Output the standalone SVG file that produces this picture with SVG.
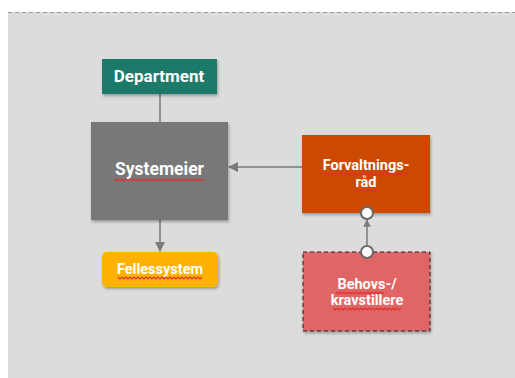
<svg xmlns="http://www.w3.org/2000/svg" width="515" height="378" viewBox="0 0 515 378">
<defs>
<style>
.t{font-family:Roboto,"Liberation Sans",sans-serif;font-weight:bold;fill:#ffffff;text-anchor:middle}
.c{stroke:#7a7a7a;stroke-width:1.5;fill:none}
.sq{stroke:#e03030;stroke-width:1.2;fill:none}
</style>
<filter id="sh" x="-10%" y="-10%" width="130%" height="140%">
<feDropShadow dx="1" dy="2" stdDeviation="1.5" flood-color="#000" flood-opacity="0.3"/>
</filter>
<marker id="ar" viewBox="0 0 10 10" refX="9" refY="5" markerWidth="7" markerHeight="7" orient="auto">
<path d="M0,0 L10,5 L0,10 z" fill="#7a7a7a"/>
</marker>
<marker id="ar2" viewBox="0 0 10 10" refX="9" refY="5" markerWidth="5" markerHeight="5" orient="auto">
<path d="M0,0 L10,5 L0,10 z" fill="#7a7a7a"/>
</marker>
</defs>
<rect x="0" y="0" width="515" height="378" fill="#ffffff"/>
<rect x="8" y="12" width="507" height="366" fill="#dcdcdc"/>
<line x1="8" y1="12.5" x2="515" y2="12.5" stroke="#999" stroke-width="1" stroke-dasharray="4,3"/>
<g id="connectors">
<line class="c" x1="160" y1="94" x2="160" y2="122"/>
<line class="c" x1="160" y1="220" x2="160" y2="251" marker-end="url(#ar)"/>
<line class="c" x1="302" y1="167" x2="229" y2="167" marker-end="url(#ar)"/>
<line class="c" x1="367" y1="246" x2="367" y2="220" marker-end="url(#ar2)"/>
</g>
<g id="department">
<rect x="102" y="59" width="115" height="35" fill="#1d7a6b" filter="url(#sh)"/>
<text class="t" x="159" y="82" font-size="17">Department</text>
</g>
<g id="systemeier">
<rect x="91" y="122" width="137" height="98" fill="#787878" filter="url(#sh)"/>
<text class="t" x="159.5" y="175" font-size="17.5">Systemeier</text>
<path class="sq" d="M114,179 l2,2 l2,-2 l2,2 l2,-2 l2,2 l2,-2 l2,2 l2,-2 l2,2 l2,-2 l2,2 l2,-2 l2,2 l2,-2 l2,2 l2,-2 l2,2 l2,-2 l2,2 l2,-2 l2,2 l2,-2 l2,2 l2,-2 l2,2 l2,-2 l2,2 l2,-2 l2,2 l2,-2 l2,2 l2,-2 l2,2 l2,-2 l2,2 l2,-2 l2,2 l2,-2 l2,2 l2,-2 l2,2 l2,-2 l2,2 l2,-2 l2,2"/>
</g>
<g id="fellessystem">
<rect x="102" y="252" width="116" height="35" rx="5" fill="#ffb300" filter="url(#sh)"/>
<text class="t" x="160" y="274" font-size="14.5">Fellessystem</text>
<path class="sq" d="M118,277 l2,2 l2,-2 l2,2 l2,-2 l2,2 l2,-2 l2,2 l2,-2 l2,2 l2,-2 l2,2 l2,-2 l2,2 l2,-2 l2,2 l2,-2 l2,2 l2,-2 l2,2 l2,-2 l2,2 l2,-2 l2,2 l2,-2 l2,2 l2,-2 l2,2 l2,-2 l2,2 l2,-2 l2,2 l2,-2 l2,2 l2,-2 l2,2 l2,-2 l2,2 l2,-2 l2,2 l2,-2 l2,2 l2,-2"/>
</g>
<g id="forvaltningsraad">
<rect x="302" y="135" width="128" height="78" fill="#cc4a02" filter="url(#sh)"/>
<text class="t" x="366" y="170" font-size="14.5">Forvaltnings-</text>
<text class="t" x="366" y="187" font-size="14.5">råd</text>
<path class="sq" d="M323,173 l2,2 l2,-2 l2,2 l2,-2 l2,2 l2,-2 l2,2 l2,-2 l2,2 l2,-2 l2,2 l2,-2 l2,2 l2,-2 l2,2 l2,-2 l2,2 l2,-2 l2,2 l2,-2 l2,2 l2,-2 l2,2 l2,-2 l2,2 l2,-2 l2,2 l2,-2 l2,2 l2,-2 l2,2 l2,-2 l2,2 l2,-2 l2,2 l2,-2 l2,2 l2,-2 l2,2 l2,-2 l2,2 l2,-2 M355,190 l2,2 l2,-2 l2,2 l2,-2 l2,2 l2,-2 l2,2 l2,-2 l2,2 l2,-2 l2,2 l2,-2"/>
</g>
<g id="behovs">
<rect x="303" y="252" width="127" height="79" fill="#e06666" stroke="#222" stroke-width="1" stroke-dasharray="4,3" filter="url(#sh)"/>
<text class="t" x="367" y="289" font-size="14.5">Behovs-/</text>
<text class="t" x="367" y="305" font-size="14.5">kravstillere</text>
<path class="sq" d="M336,292 l2,2 l2,-2 l2,2 l2,-2 l2,2 l2,-2 l2,2 l2,-2 l2,2 l2,-2 l2,2 l2,-2 l2,2 l2,-2 l2,2 l2,-2 l2,2 l2,-2 l2,2 l2,-2 l2,2 l2,-2 l2,2 l2,-2 M333,308 l2,2 l2,-2 l2,2 l2,-2 l2,2 l2,-2 l2,2 l2,-2 l2,2 l2,-2 l2,2 l2,-2 l2,2 l2,-2 l2,2 l2,-2 l2,2 l2,-2 l2,2 l2,-2 l2,2 l2,-2 l2,2 l2,-2 l2,2 l2,-2 l2,2 l2,-2 l2,2 l2,-2 l2,2 l2,-2 l2,2 l2,-2"/>
</g>
<g id="ports">
<circle cx="367" cy="213" r="6" fill="#ffffff" stroke="#6a6a6a" stroke-width="2"/>
<circle cx="367" cy="252" r="6" fill="#ffffff" stroke="#6a6a6a" stroke-width="2"/>
</g>
</svg>
